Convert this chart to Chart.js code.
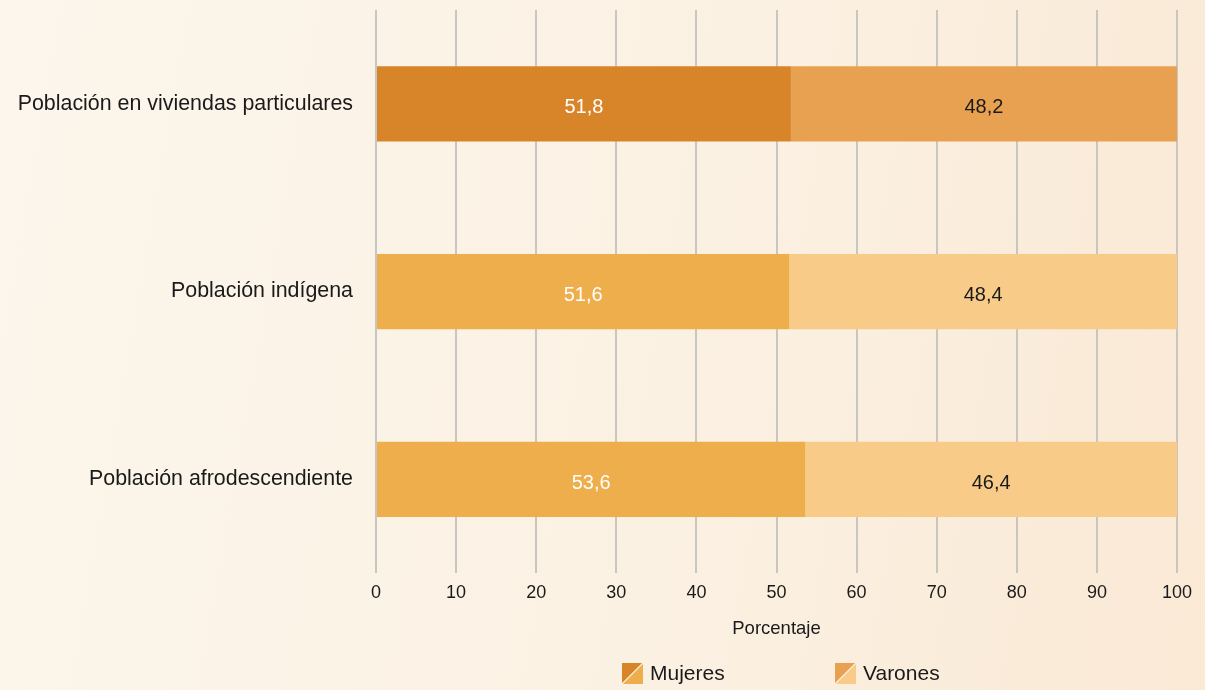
<!DOCTYPE html>
<html>
<head>
<meta charset="utf-8">
<script src="https://cdn.jsdelivr.net/npm/chart.js@4"></script>
<style>
  html, body { margin: 0; padding: 0; }
  body {
    width: 1205px; height: 690px; overflow: hidden;
    background: linear-gradient(100deg, #fcf6ec 0%, #fbf1e3 55%, #fae9d5 100%);
  }
  #wrap { position: relative; width: 1205px; height: 690px; }
</style>
</head>
<body>
<div id="wrap"><canvas id="grafico" width="1205" height="690"></canvas></div>
<script>
const categorias = ['Población en viviendas particulares', 'Población indígena', 'Población afrodescendiente'];
const mujeres = [51.8, 51.6, 53.6];
const varones = [48.2, 48.4, 46.4];
const ticksX = [0, 10, 20, 30, 40, 50, 60, 70, 80, 90, 100];

const colMujeres = ['#d8852a', '#edae4b', '#edae4b'];
const colVarones = ['#e7a150', '#f9cb88', '#f9cb88'];
// colores del cuadrito de leyenda (mitad oscura / mitad clara)
const leyMujeres = ['#d8852a', '#edae4b'];
const leyVarones = ['#e7a150', '#f9cb88'];

const fuente = "'Liberation Sans', Arial, Helvetica, sans-serif";

const etiquetas = {
  id: 'etiquetas',
  afterDatasetsDraw(chart) {
    const ctx = chart.ctx;
    ctx.save();
    ctx.font = '20px ' + fuente;
    ctx.textAlign = 'center';
    ctx.textBaseline = 'middle';
    chart.data.datasets.forEach((ds, i) => {
      const meta = chart.getDatasetMeta(i);
      meta.data.forEach((bar, j) => {
        ctx.fillStyle = i === 0 ? '#ffffff' : '#1a1a1a';
        ctx.fillText(ds.data[j].toFixed(1).replace('.', ','), (bar.x + bar.base) / 2, bar.y + 4);
      });
    });
    ctx.restore();
  }
};

// leyenda propia: cuadrito partido en diagonal + texto
const leyenda = {
  id: 'leyenda',
  afterDraw(chart) {
    const ctx = chart.ctx;
    const items = [
      { x: 622, cols: leyMujeres, text: chart.data.datasets[0].label },
      { x: 835, cols: leyVarones, text: chart.data.datasets[1].label }
    ];
    const y = 663, s = 21;
    ctx.save();
    items.forEach(it => {
      ctx.fillStyle = it.cols[0];
      ctx.beginPath(); ctx.moveTo(it.x, y); ctx.lineTo(it.x + s, y); ctx.lineTo(it.x, y + s); ctx.closePath(); ctx.fill();
      ctx.fillStyle = it.cols[1];
      ctx.beginPath(); ctx.moveTo(it.x + s, y); ctx.lineTo(it.x + s, y + s); ctx.lineTo(it.x, y + s); ctx.closePath(); ctx.fill();
      ctx.strokeStyle = '#fbeedd'; ctx.lineWidth = 1.2;
      ctx.beginPath(); ctx.moveTo(it.x + s, y); ctx.lineTo(it.x, y + s); ctx.stroke();
      ctx.fillStyle = '#1a1a1a';
      ctx.font = '21px ' + fuente;
      ctx.textAlign = 'left';
      ctx.textBaseline = 'middle';
      ctx.fillText(it.text, it.x + s + 7, y + s / 2 + 1);
    });
    ctx.restore();
  }
};

new Chart(document.getElementById('grafico'), {
  type: 'bar',
  data: {
    labels: categorias,
    datasets: [
      { label: 'Mujeres', data: mujeres, backgroundColor: colMujeres, barPercentage: 0.4, categoryPercentage: 1 },
      { label: 'Varones', data: varones, backgroundColor: colVarones, barPercentage: 0.4, categoryPercentage: 1 }
    ]
  },
  options: {
    indexAxis: 'y',
    responsive: false,
    animation: false,
    devicePixelRatio: 1,
    layout: { padding: { top: 10, right: 28, left: 0, bottom: 50 } },
    scales: {
      x: {
        stacked: true,
        min: 0, max: 100,
        afterBuildTicks(axis) { axis.ticks = ticksX.map(v => ({ value: v })); },
        grid: { color: '#c9c6c1', lineWidth: 2, drawTicks: false },
        border: { display: false },
        ticks: { color: '#1a1a1a', font: { family: fuente, size: 18 }, padding: 9 },
        title: { display: true, text: 'Porcentaje', color: '#1a1a1a', font: { family: fuente, size: 18.5 }, padding: { top: 5, bottom: 0 } }
      },
      y: {
        stacked: true,
        grid: { display: false },
        border: { display: false },
        ticks: { color: '#1a1a1a', font: { family: fuente, size: 21.4 }, padding: 15 },
        afterFit(scale) { scale.width = 376; scale.paddingTop = 0; scale.paddingBottom = 0; }
      }
    },
    plugins: {
      tooltip: { enabled: false },
      legend: { display: false }
    }
  },
  plugins: [etiquetas, leyenda]
});
</script>
</body>
</html>
